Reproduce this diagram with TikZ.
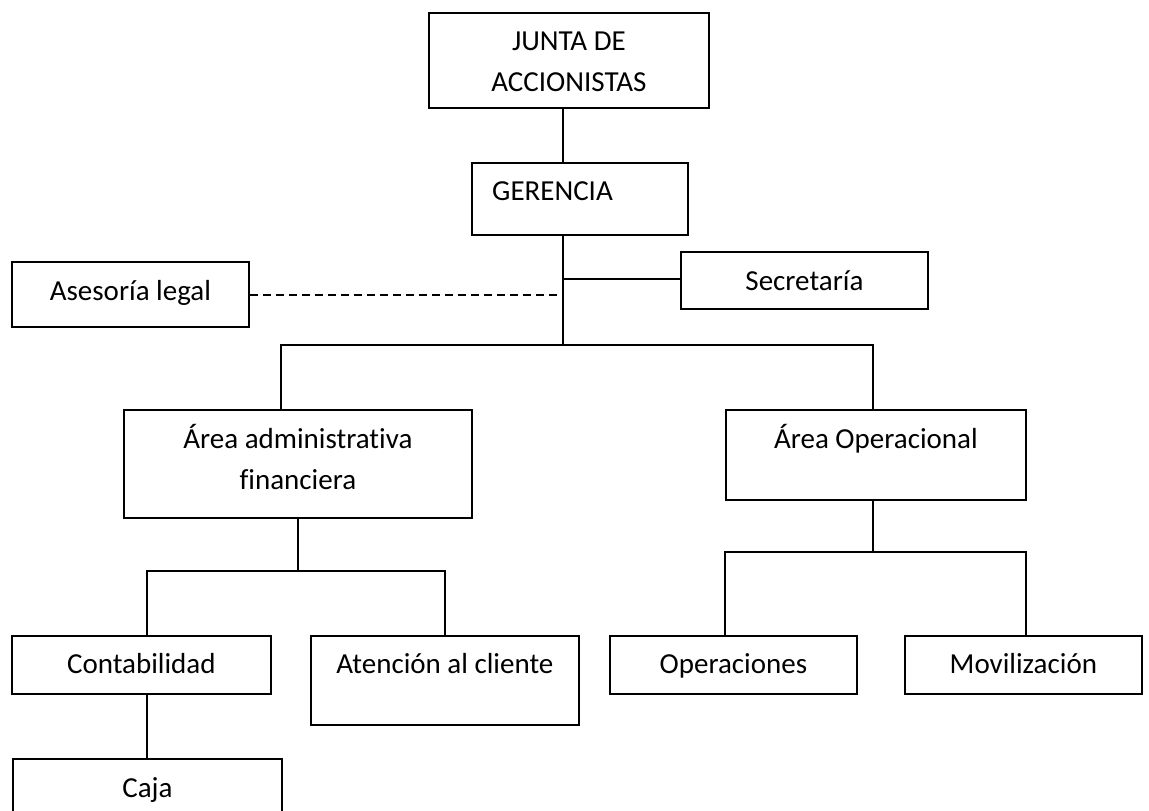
\documentclass[tikz,border=0pt]{standalone}
\usepackage{fontspec}
\setmainfont{Carlito}[Ligatures=NoCommon]
\begin{document}
\begin{tikzpicture}[x=1pt,y=-1pt,
  box/.style={draw, line width=1.8pt, rectangle, inner sep=0pt, anchor=north west},
  lbl/.style={anchor=base, inner sep=0pt, font=\fontsize{29}{41}\selectfont},
  conn/.style={line width=1.8pt},
  dashconn/.style={line width=1.8pt, dash pattern=on 8pt off 5pt}]
\useasboundingbox (0,0) rectangle (1149,811);
\clip (0,0) rectangle (1149,811);
% boxes
\node[box, minimum width=280pt, minimum height=95pt] (junta) at (428,12) {};
\node[box, minimum width=216pt, minimum height=72pt] (ger) at (471,162) {};
\node[box, minimum width=237pt, minimum height=65pt] (ase) at (11,261) {};
\node[box, minimum width=247pt, minimum height=57pt] (sec) at (680,251) {};
\node[box, minimum width=348pt, minimum height=108pt] (adm) at (123,409) {};
\node[box, minimum width=300pt, minimum height=90pt] (op) at (725,409) {};
\node[box, minimum width=259pt, minimum height=58pt] (cont) at (11,635) {};
\node[box, minimum width=268pt, minimum height=89pt] (atn) at (310,635) {};
\node[box, minimum width=247pt, minimum height=58pt] (ope) at (609,635) {};
\node[box, minimum width=237pt, minimum height=58pt] (mov) at (904,635) {};
\node[box, minimum width=269pt, minimum height=80pt] (caja) at (12,758) {};
% labels
\node[lbl] (juntat) at ([yshift=-38.5pt]junta.north) {\begin{tabular}[t]{@{}c@{}}JUNTA DE\\ACCIONISTAS\end{tabular}};
\node[lbl, anchor=base west] (gert) at ([xshift=21pt,yshift=-38.5pt]ger.north west) {GERENCIA};
\node[lbl] (aset) at ([yshift=-39pt]ase.north) {Asesoría legal};
\node[lbl] (sect) at ([yshift=-39pt]sec.north) {Secretaría};
\node[lbl] (admt) at ([yshift=-39pt]adm.north) {\begin{tabular}[t]{@{}c@{}}Área administrativa\\financiera\end{tabular}};
\node[lbl] (opt) at ([yshift=-39pt]op.north) {Área Operacional};
\node[lbl] (contt) at ([yshift=-38.5pt]cont.north) {Contabilidad};
\node[lbl] (atnt) at ([yshift=-38.5pt]atn.north) {Atención al cliente};
\node[lbl] (opet) at ([yshift=-38.5pt]ope.north) {Operaciones};
\node[lbl] (movt) at ([yshift=-38.5pt]mov.north) {Movilización};
\node[lbl] (cajat) at ([yshift=-39pt]caja.north) {Caja};
% connector guides
\coordinate (sp) at (563,0);
\coordinate (sy) at (0,279);
\coordinate (dy) at (0,295);
\coordinate (b1) at (0,345);
\coordinate (ax) at (281,0);
\coordinate (ox) at (873,0);
\coordinate (dx) at (298,0);
\coordinate (b2) at (0,571);
\coordinate (cx) at (147,0);
\coordinate (b3) at (0,552);
\coordinate (mx) at (1026,0);
% connectors
\draw[conn] (junta.south -| sp) -- (ger.north -| sp);
\draw[conn] (ger.south -| sp) -- (sp |- b1);
\draw[conn] (sp |- sy) -- (sec.west |- sy);
\draw[dashconn] (ase.east |- dy) -- (sp |- dy);
\draw[conn] (adm.north -| ax) -- (ax |- b1) -- (ox |- b1) -- (op.north -| ox);
\draw[conn] (adm.south -| dx) -- (dx |- b2);
\draw[conn] (cont.north -| cx) -- (cx |- b2) -- (atn.north |- b2) -- (atn.north);
\draw[conn] (op.south -| ox) -- (ox |- b3);
\draw[conn] (ope.north -| op.west) -- (op.west |- b3) -- (mx |- b3) -- (mov.north -| mx);
\draw[conn] (cont.south -| cx) -- (caja.north -| cx);
\end{tikzpicture}
\end{document}
